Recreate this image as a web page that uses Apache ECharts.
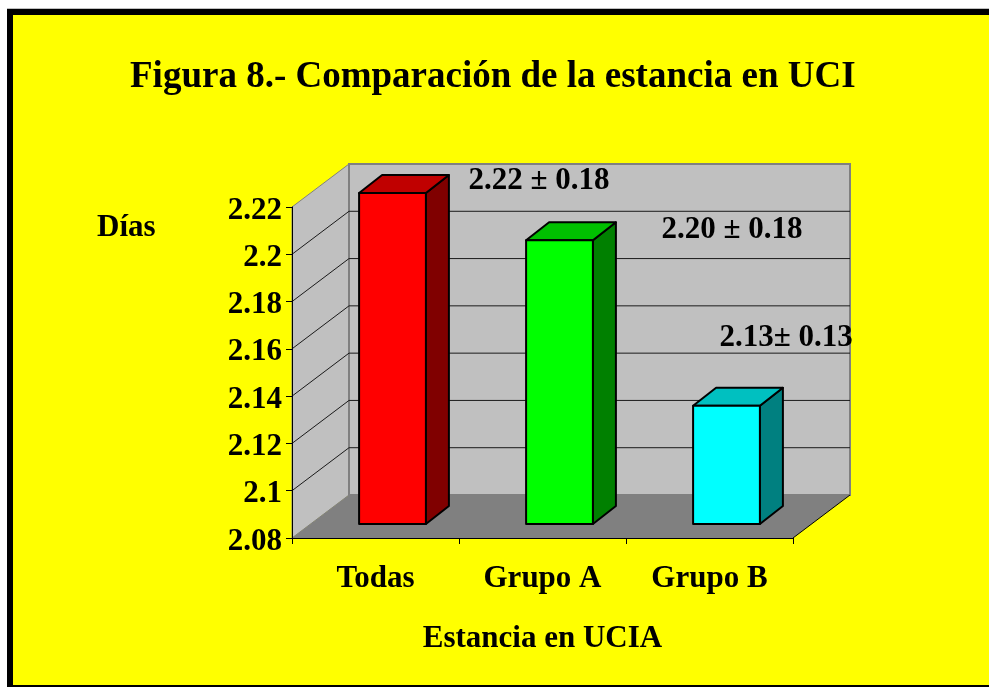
<!DOCTYPE html>
<html>
<head>
<meta charset="utf-8">
<script src="https://cdn.jsdelivr.net/npm/echarts@6/dist/echarts.min.js"></script>
<style>
    html, body {margin: 0; padding: 0; background: #fff; width: 989px; height: 689px; overflow: hidden;}
    #frame {
        position: absolute; left: 7px; top: 9px; right: 0; height: 678px;
        box-sizing: border-box; background: #FFFF00;
        border-left: 6px solid #000; border-top: 6px solid #000; border-bottom: 2px solid #000;
        box-shadow: 0 -1px 0 #c0c0c0;
    }
    #chart {position: absolute; left: 0; top: 0; width: 989px; height: 689px;}
</style>
</head>
<body>
<div id="frame"></div>
<div id="chart"></div>
<script>
// datos
const categories = ['Todas', 'Grupo A', 'Grupo B'];
const stayDays = [2.22, 2.20, 2.13];
const stayLabels = ['2.22 ± 0.18', '2.20 ± 0.18', '2.13± 0.13'];
const Y_MIN = 2.08, Y_MAX = 2.22, Y_STEP = 0.02;

// colores de las barras: frente, tapa, lado
const faceColors = ['#FF0000', '#00FF00', '#00FFFF'];
const topColors = ['#C00000', '#00C000', '#00C0C0'];
const sideColors = ['#800000', '#008000', '#008080'];

const FONT = 'bold 31px "Liberation Serif", "Times New Roman", serif';
const WALL_DX = 57, WALL_DY = -43;   // profundidad del 3D
const BAR_OX = 17, BAR_OY = -14;     // cara frontal de la barra
const BAR_DX = 23, BAR_DY = -18;     // grosor de la barra
const labelNudge = [[93, -12], [119, -10], [10, -68]];

var chart = echarts.init(document.getElementById('chart'));

function renderWalls(params, api) {
    var cs = params.coordSys;
    var x0 = cs.x, x1 = cs.x + cs.width;
    var yb = api.coord([0, Y_MIN])[1];
    var yt = api.coord([0, Y_MAX])[1];
    var kids = [];
    // pared izquierda
    kids.push({type: 'polygon', shape: {points: [[x0, yb], [x0, yt], [x0 + WALL_DX, yt + WALL_DY], [x0 + WALL_DX, yb + WALL_DY]]},
        style: {fill: '#C0C0C0', stroke: '#808080', lineWidth: 1}});
    // pared del fondo
    kids.push({type: 'rect', shape: {x: x0 + WALL_DX, y: yt + WALL_DY, width: x1 - x0, height: yb - yt},
        style: {fill: '#C0C0C0', stroke: '#808080', lineWidth: 2}});
    // suelo
    kids.push({type: 'polygon', shape: {points: [[x0, yb], [x1, yb], [x1 + WALL_DX, yb + WALL_DY], [x0 + WALL_DX, yb + WALL_DY]]},
        style: {fill: '#808080'}});
    kids.push({type: 'line', shape: {x1: x1, y1: yb, x2: x1 + WALL_DX, y2: yb + WALL_DY},
        style: {stroke: '#000', lineWidth: 1}});
    // lineas de division
    for (var k = 1; k < Math.round((Y_MAX - Y_MIN) / Y_STEP); k++) {
        var y = api.coord([0, Y_MIN + k * Y_STEP])[1];
        kids.push({type: 'polyline', shape: {points: [[x0, y], [x0 + WALL_DX, y + WALL_DY], [x1 + WALL_DX, y + WALL_DY]]},
            style: {stroke: '#1a1a1a', lineWidth: 1, fill: null}});
    }
    return {type: 'group', children: kids};
}

function renderBar(params, api) {
    var i = api.value(0);
    var top = api.coord([i, api.value(1)]);
    var base = api.coord([i, Y_MIN]);
    var w = api.size([1, 0])[0] * 0.4;
    var fl = top[0] + BAR_OX - w / 2, fr = fl + w;
    var ft = top[1] + BAR_OY, fb = base[1] + BAR_OY;
    var line = {stroke: '#000', lineWidth: 2, lineJoin: 'round'};
    return {
        type: 'group',
        children: [
            {type: 'polygon', shape: {points: [[fr, ft], [fr + BAR_DX, ft + BAR_DY], [fr + BAR_DX, fb + BAR_DY], [fr, fb]]},
                style: Object.assign({fill: sideColors[i]}, line)},
            {type: 'polygon', shape: {points: [[fl, ft], [fl + BAR_DX, ft + BAR_DY], [fr + BAR_DX, ft + BAR_DY], [fr, ft]]},
                style: Object.assign({fill: topColors[i]}, line)},
            {type: 'rect', shape: {x: fl, y: ft, width: w, height: fb - ft},
                style: Object.assign({fill: faceColors[i]}, line)},
            {type: 'text', style: {text: stayLabels[i], x: top[0] + labelNudge[i][0], y: ft + labelNudge[i][1],
                font: FONT, fill: '#000', align: 'left', verticalAlign: 'middle'}}
        ]
    };
}

var option = {
    animation: false,
    title: {
        text: 'Figura 8.- Comparación de la estancia en UCI',
        left: 125, top: 54,
        textStyle: {fontFamily: 'Liberation Serif', fontWeight: 'bold', fontSize: 37, color: '#000'}
    },
    graphic: [{
        type: 'text', left: 97, top: 212,
        style: {text: 'Días', font: FONT, fill: '#000'}
    }],
    grid: {left: 292, right: 196, top: 207, bottom: 151},
    xAxis: {
        type: 'category',
        data: categories,
        z: 3,
        axisLine: {lineStyle: {color: '#000', width: 1}},
        axisTick: {show: true, length: 6, lineStyle: {color: '#000'}},
        axisLabel: {margin: 25, color: '#000', fontFamily: 'Liberation Serif', fontWeight: 'bold', fontSize: 31},
        name: 'Estancia en UCIA',
        nameLocation: 'middle',
        nameGap: 85,
        nameTextStyle: {color: '#000', fontFamily: 'Liberation Serif', fontWeight: 'bold', fontSize: 31}
    },
    yAxis: {
        type: 'value',
        min: Y_MIN, max: Y_MAX, interval: Y_STEP,
        z: 3,
        axisLine: {show: true, lineStyle: {color: '#000', width: 1}},
        axisTick: {show: true, length: 6, lineStyle: {color: '#000'}},
        axisLabel: {
            margin: 10,
            formatter: function (v) { return '{t|' + v + '}'; },
            rich: {t: {padding: [7, 0, 0, 0], color: '#000', fontFamily: 'Liberation Serif', fontWeight: 'bold', fontSize: 31}}
        },
        splitLine: {show: false}
    },
    series: [
        {type: 'custom', z: 1, silent: true, renderItem: renderWalls, data: [[0, Y_MIN]]},
        {type: 'custom', z: 4, renderItem: renderBar,
            data: categories.map(function (c, i) { return [i, stayDays[i]]; })}
    ]
};
chart.setOption(option);
</script>
</body>
</html>
